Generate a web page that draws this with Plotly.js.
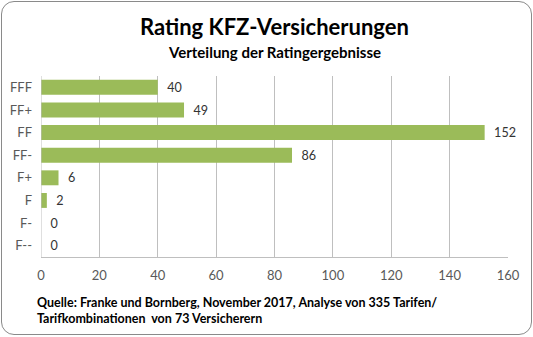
<!DOCTYPE html>
<html>
<head>
<meta charset="utf-8">
<script src="https://cdn.plot.ly/plotly-3.0.1.min.js"></script>
<style>
  html, body { margin: 0; padding: 0; background: #ffffff; }
  #wrap { position: relative; width: 533px; height: 337px; }
  #chart { position: absolute; left: 0; top: 0; width: 533px; height: 337px; }
  #frame { position: absolute; left: 1px; top: 1px; width: 531px; height: 334px; box-sizing: border-box;
           border: 1.5px solid #8a8a8a; border-radius: 13px; pointer-events: none; }
</style>
</head>
<body>
<div id="wrap">
  <div id="chart"></div>
  <div id="frame"></div>
</div>
<script>
const categories = ["FFF", "FF+", "FF", "FF-", "F+", "F", "F-", "F--"];
const counts = [40, 49, 152, 86, 6, 2, 0, 0];
const xTicks = [0, 20, 40, 60, 80, 100, 120, 140, 160];

const titleText = "Rating KFZ-Versicherungen";
const subtitleText = "Verteilung der Ratingergebnisse";
const sourceText = "Quelle: Franke und Bornberg, November 2017, Analyse von 335 Tarifen/<br>Tarifkombinationen  von 73 Versicherern";

const FONT = "Lato, 'Open Sans', sans-serif";

const trace = {
  type: "bar",
  orientation: "h",
  y: categories,
  x: counts,
  marker: { color: "#9BBB59", line: { width: 0 } },
  text: counts.map(v => "\u00a0\u00a0" + v),
  textposition: "outside",
  textfont: { family: FONT, size: 13.5, color: "#333333" },
  cliponaxis: false,
  hoverinfo: "none"
};

const layout = {
  width: 533,
  height: 337,
  margin: { l: 41, r: 25, t: 76, b: 80 },
  paper_bgcolor: "rgba(0,0,0,0)",
  plot_bgcolor: "#ffffff",
  showlegend: false,
  bargap: 0.34,
  font: { family: FONT, size: 13, color: "#595959" },
  title: {
    text: "<b>" + titleText + "</b>",
    font: { family: FONT, size: 22, color: "#000000" },
    xref: "paper", x: 0.5, xanchor: "center",
    yref: "container", y: 1 - 27 / 337, yanchor: "middle"
  },
  xaxis: {
    range: [0, 160],
    tickvals: xTicks,
    ticktext: xTicks.map(String),
    showgrid: true,
    gridcolor: "#bfbfbf",
    gridwidth: 1,
    zeroline: false,
    showline: true,
    linecolor: "#bfbfbf",
    linewidth: 1,
    ticks: "",
    ticklabelstandoff: 6,
    tickfont: { family: FONT, size: 13, color: "#595959" },
    fixedrange: true
  },
  yaxis: {
    type: "category",
    autorange: "reversed",
    showgrid: false,
    zeroline: false,
    showline: false,
    ticks: "",
    ticklabelstandoff: 8,
    tickfont: { family: FONT, size: 13, color: "#595959" },
    fixedrange: true
  },
  shapes: [
    { type: "line", xref: "x", yref: "paper", x0: 0, x1: 0, y0: 0, y1: 1,
      line: { color: "#bfbfbf", width: 1 } }
  ],
  annotations: [
    {
      text: "<b>" + subtitleText + "</b>",
      xref: "paper", yref: "paper", x: 0.5, y: 1 + 24 / 181,
      xanchor: "center", yanchor: "middle", showarrow: false,
      font: { family: FONT, size: 15, color: "#000000" }
    },
    {
      text: "<b>" + sourceText + "</b>",
      xref: "paper", yref: "paper", x: -6 / 467, y: -36 / 181,
      xanchor: "left", yanchor: "top", align: "left", showarrow: false,
      font: { family: FONT, size: 12.5, color: "#000000" }
    }
  ]
};

Plotly.newPlot("chart", [trace], layout, { staticPlot: true, displayModeBar: false });
</script>
</body>
</html>
